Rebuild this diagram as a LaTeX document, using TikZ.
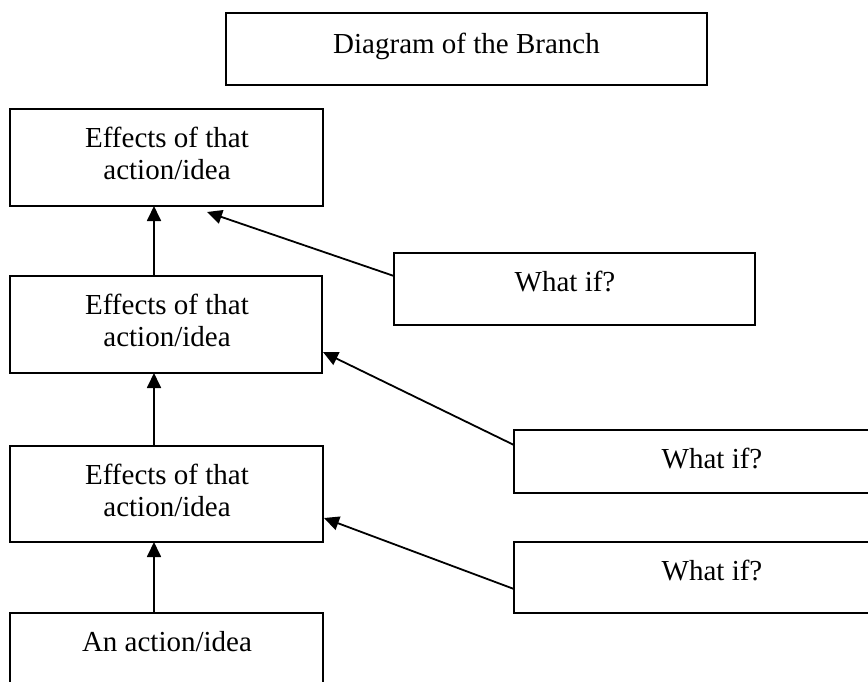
\documentclass[tikz,border=0pt]{standalone}
\usepackage{fontspec}
\setmainfont{Liberation Serif}
\usetikzlibrary{arrows.meta,calc}
\begin{document}
\begin{tikzpicture}[x=1pt,y=-1pt,
  box/.style={draw=black, line width=1.8pt, anchor=north west, inner sep=0pt, outer sep=0pt},
  txt/.style={font=\fontsize{29}{32}\selectfont, align=center, anchor=base, inner sep=0pt},
  arr/.style={line width=1.8pt, -{Triangle[length=15pt,width=14pt]}}]
\clip (0,0) rectangle (868,681);
\fill[white] (0,0) rectangle (868,681);
% boxes
\node[box, minimum width=481pt, minimum height=72pt] (title) at (226,13) {};
\node[box, minimum width=313pt, minimum height=97pt] (b1) at (10,109) {};
\node[box, minimum width=312pt, minimum height=97pt] (b2) at (10,276) {};
\node[box, minimum width=313pt, minimum height=96pt] (b3) at (10,446) {};
\node[box, minimum width=313pt, minimum height=120pt] (b4) at (10,613) {};
\node[box, minimum width=361pt, minimum height=72pt] (w1) at (394,253) {};
\node[box, minimum width=400pt, minimum height=63pt] (w2) at (514,430) {};
\node[box, minimum width=400pt, minimum height=71pt] (w3) at (514,542) {};
% texts
\node[txt] (ttitle) at ($(title.north)+(0,40)$) {Diagram of the Branch};
\node[txt] (t1) at ($(b1.north west)+(157,70)$) {Effects of that\\action/idea};
\node[txt] (t2) at ($(b2.north west)+(157,70)$) {Effects of that\\action/idea};
\node[txt] (t3) at ($(b3.north west)+(157,70)$) {Effects of that\\action/idea};
\node[txt] (t4) at ($(b4.north west)+(157,38)$) {An action/idea};
\node[txt] (tw1) at ($(w1.north west)+(171,38)$) {What if?};
\node[txt] (tw2) at ($(w2.north west)+(198,38)$) {What if?};
\node[txt] (tw3) at ($(w3.north west)+(198,38)$) {What if?};
% connectors
\draw[arr] ($(b2.north west)+(144,0)$) -- ($(b1.south west)+(144,0)$);
\draw[arr] ($(b3.north west)+(144,0)$) -- ($(b2.south west)+(144,0)$);
\draw[arr] ($(b4.north west)+(144,0)$) -- ($(b3.south west)+(144,0)$);
\draw[arr] ($(w1.north west)+(0,23)$) -- ($(b1.south west)+(197,6)$);
\draw[arr] ($(w2.north west)+(0,15)$) -- ($(b2.north east)+(1,76)$);
\draw[arr] ($(w3.north west)+(0,47)$) -- ($(b3.north east)+(1,72)$);
\end{tikzpicture}
\end{document}
